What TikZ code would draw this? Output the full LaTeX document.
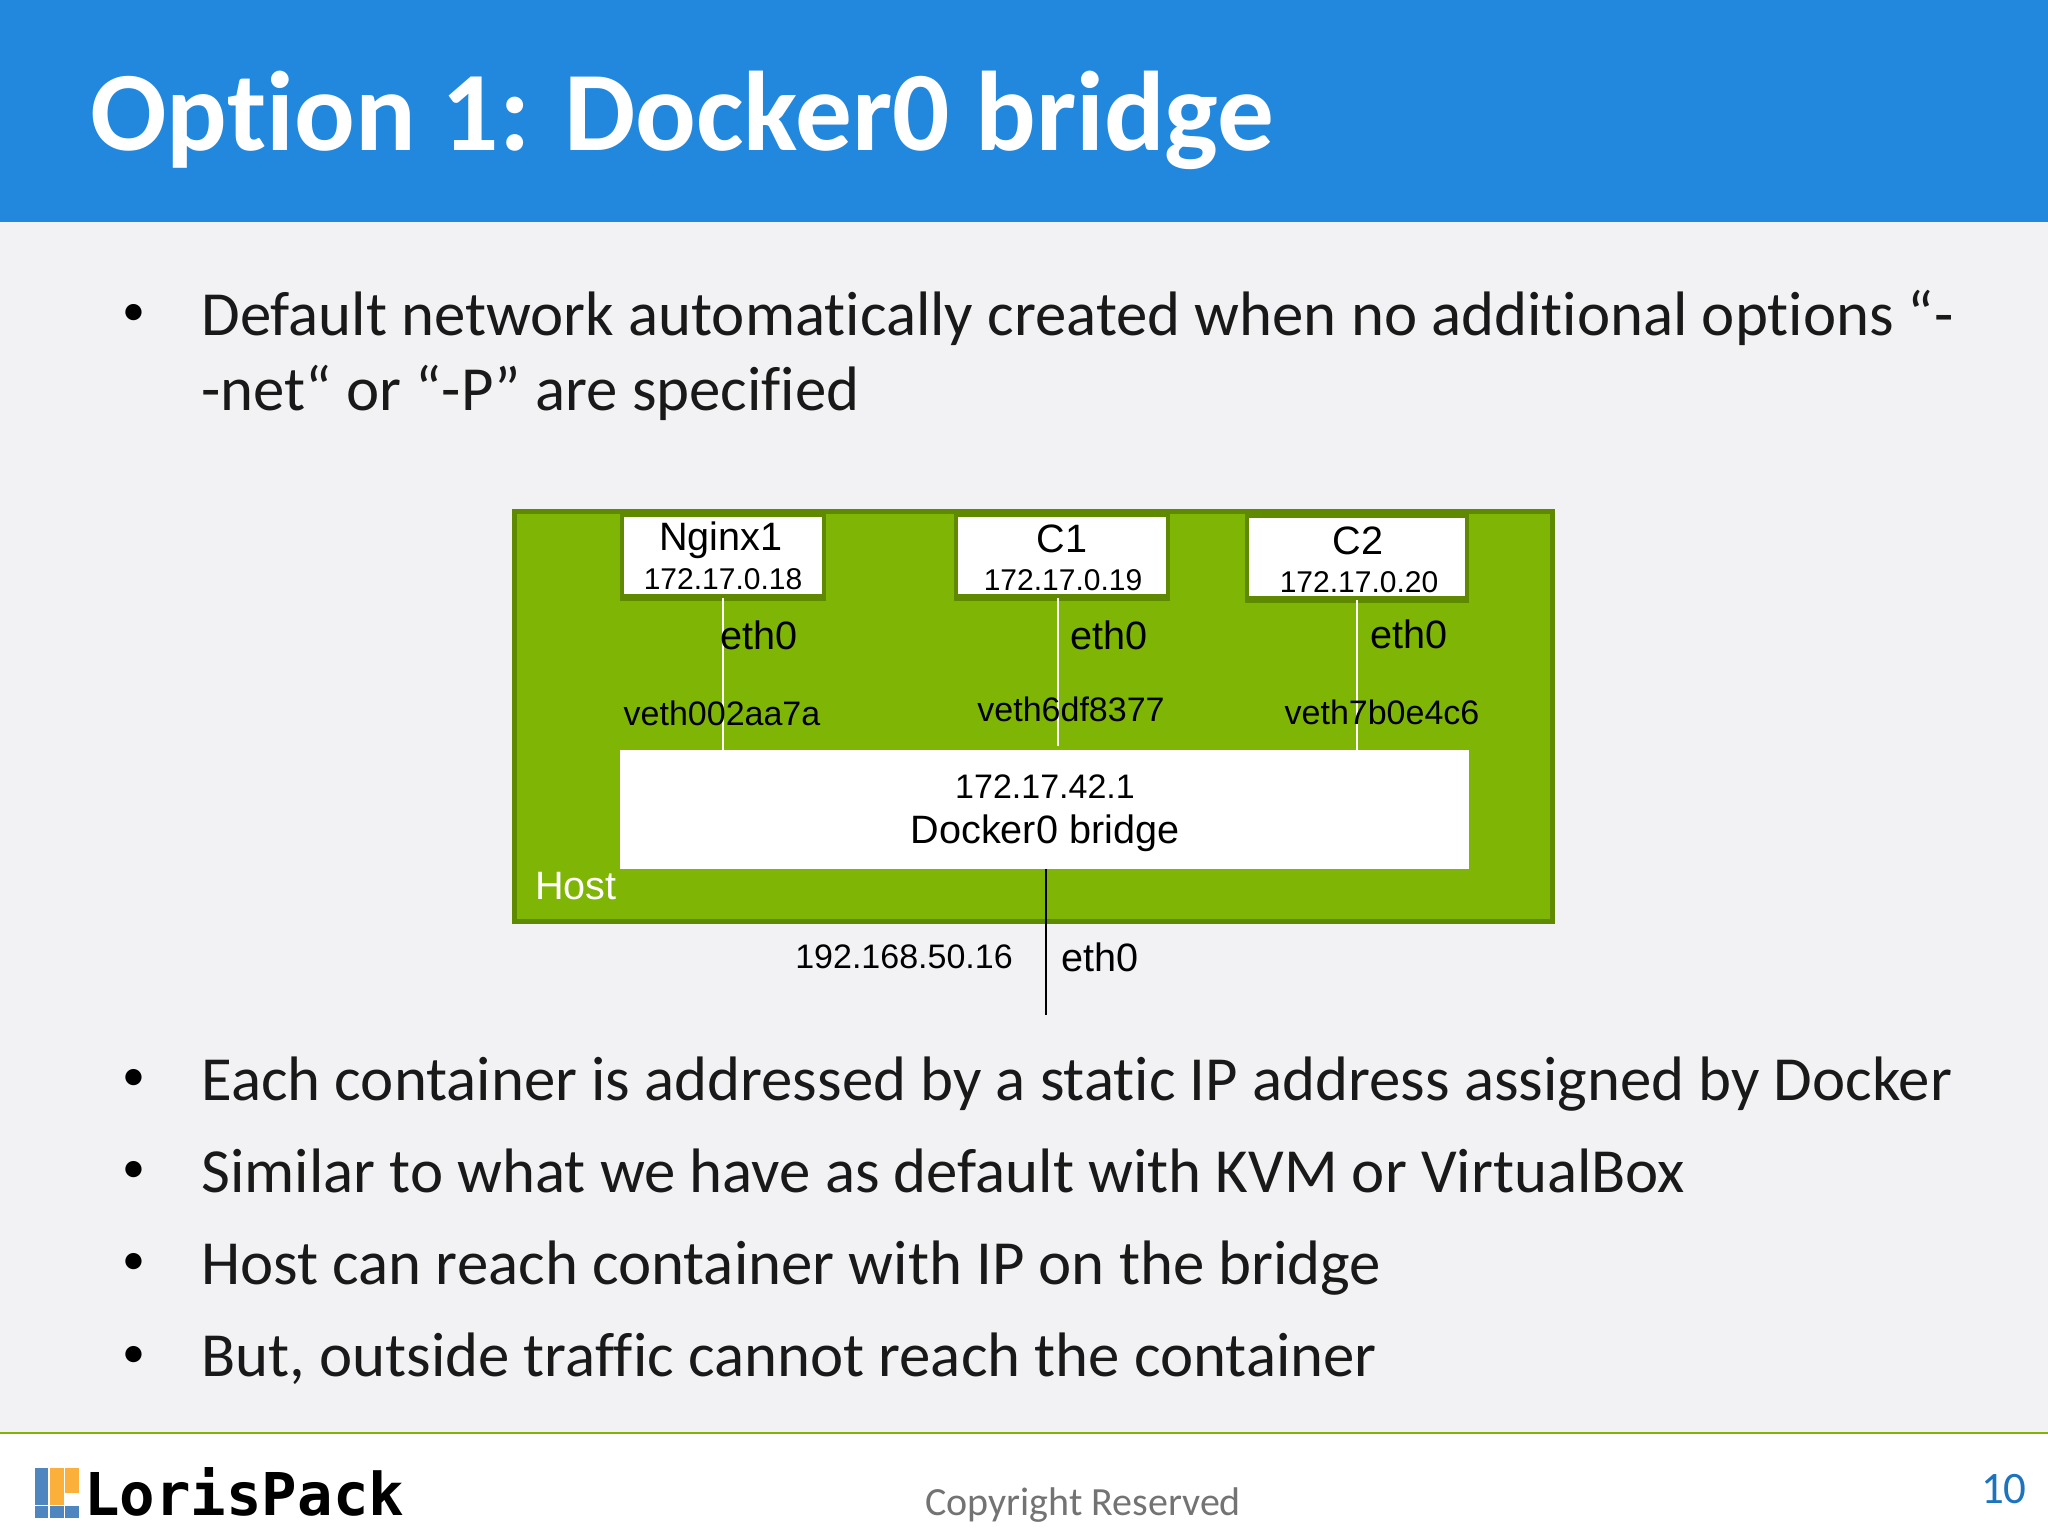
\documentclass[tikz,border=0pt]{standalone}
\usepackage{fontspec}
\setmainfont[Ligatures=NoCommon]{Carlito}
\newfontfamily\diagfont{Liberation Sans}
\newfontfamily\logofont{DejaVu Sans Mono}
\usetikzlibrary{positioning}
\definecolor{headblue}{HTML}{2288DD}
\definecolor{slidebg}{HTML}{F2F1F4}
\definecolor{hostgreen}{HTML}{7FB505}
\definecolor{hostedge}{HTML}{5F8A00}
\definecolor{logoblue}{HTML}{4F86C0}
\definecolor{logoorange}{HTML}{FBB03B}

\begin{document}
\begin{tikzpicture}[
  x=0.5pt, y=-0.5pt,
  title/.style={anchor=base west, inner sep=0pt, text=white, font=\fontsize{56.6}{57}\selectfont\bfseries},
  body/.style={anchor=base west, inner sep=0pt, text=black!90, font=\fontsize{31.4}{32}\selectfont},
  bullet/.style={inner sep=0pt, font=\fontsize{23}{23}\selectfont},
  box/.style={draw=hostedge, fill=white, line width=2.2pt, inner sep=0pt},
  big/.style={inner sep=0pt, font=\diagfont\fontsize{19.8}{20}\selectfont},
  small/.style={inner sep=0pt, font=\diagfont\fontsize{17}{17}\selectfont},
  ipaddr/.style={inner sep=0pt, font=\diagfont\fontsize{15}{15}\selectfont},
  wire/.style={white, line width=0.7pt},
  logosq/.style={inner sep=0pt, minimum width=6.8pt, minimum height=6.1pt}
]
\useasboundingbox (0,0) rectangle (2048,1536);

% slide
\fill[slidebg] (0,0) rectangle (2048,1536);
\fill[headblue] (0,0) rectangle (2048,222);
\fill[white] (0,1433) rectangle (2048,1536);
\draw[hostgreen, line width=1pt] (0,1433) -- (2048,1433);

\node[title] (head) at (90,150) {Option 1: Docker0 bridge};

\node[body] (l1) at (201,335) {Default network automatically created when no additional options “-};
\node[body] (l2) at (201,410) {-net“ or “-P” are specified};
\node[body] (l3) at (201,1100) {Each container is addressed by a static IP address assigned by Docker};
\node[body] (l4) at (201,1192) {Similar to what we have as default with KVM or VirtualBox};
\node[body] (l5) at (201,1284) {Host can reach container with IP on the bridge};
\node[body] (l6) at (201,1376) {But, outside traffic cannot reach the container};

\foreach \n/\y in {1/315,3/1080,4/1172,5/1264,6/1357} {
  \node[bullet] (b\n) at (134,\y) {•};
}

% host
\node[draw=hostedge, fill=hostgreen, line width=2.5pt, inner sep=0pt, minimum width=519pt, minimum height=205pt] (host) at (1033.5,716) {};

\node[box, minimum width=101pt, minimum height=40.5pt] (nginx) at (723,555.5) {};
\node[box, minimum width=106pt, minimum height=40.5pt] (c1) at (1062,555.5) {};
\node[box, minimum width=110pt, minimum height=41pt] (c2) at (1357,557) {};
\node[fill=white, inner sep=0pt, minimum width=424.5pt, minimum height=59.5pt] (bridge) at (1044.5,809.5) {};

\coordinate (c1end) at (1058,746);
\coordinate (extend) at (1046,1015);

% thicker lower edge of the boxes
\foreach \b in {nginx,c1,c2} {
  \draw[hostedge, line width=2.5pt] (\b.south west) -- (\b.south east);
}

\draw[wire] (nginx.south) -- (nginx.south |- bridge.north);
\draw[wire] (c1.south -| c1end) -- (c1end);
\draw[wire] (c2.south) -- (c2.south |- bridge.north);
\draw[black, line width=0.8pt] (bridge.south -| extend) -- (extend);

\node[big] (nginxname) at (721,540) {Nginx1};
\node[ipaddr] (nginxip) at (723,579) {172.17.0.18};
\node[big] (c1name) at (1062,539) {C1};
\node[ipaddr] (c1ip) at (1063,580) {172.17.0.19};
\node[big] (c2name) at (1358,541) {C2};
\node[ipaddr] (c2ip) at (1359,582) {172.17.0.20};

\node[big] (eth1) at (759,635) {eth0};
\node[big] (eth2) at (1109,635) {eth0};
\node[big] (eth3) at (1409,634) {eth0};
\node[small] (veth1) at (722,713) {veth002aa7a};
\node[small] (veth2) at (1071,709) {veth6df8377};
\node[small] (veth3) at (1382,712) {veth7b0e4c6};

\node[small] (bridgeip) at (1045,787) {172.17.42.1};
\node[big] (bridgename) at (1045,833) {Docker0 bridge};
\node[big, text=white] (hostname) at (576,886) {Host};
\node[small] (extip) at (904,957) {192.168.50.16};
\node[big] (exteth) at (1100,957) {eth0};

% footer
\foreach \c/\r/\col in {1/1/logoblue,1/2/logoblue,1/3/logoblue,1/4/logoblue,2/1/logoorange,2/2/logoorange,2/3/logoorange,2/4/logoblue,3/1/logoorange,3/2/logoorange,3/4/logoblue} {
  \node[logosq, fill=\col] (sq\c\r) at (26.3+15.2*\c,1461+12.7*\r) {};
}
\node[anchor=base west, inner sep=0pt, font=\logofont\bfseries\fontsize{29.5}{30}\selectfont] (logo) at (84,1515) {LorisPack};
\node[anchor=base, inner sep=0pt, text=black!55, font=\fontsize{20}{20}\selectfont] (copy) at (1083,1515) {Copyright Reserved};
\node[anchor=base east, inner sep=0pt, text=headblue!85!black, font=\fontsize{22.5}{23}\selectfont] (pageno) at (2027,1503) {10};

\end{tikzpicture}
\end{document}
